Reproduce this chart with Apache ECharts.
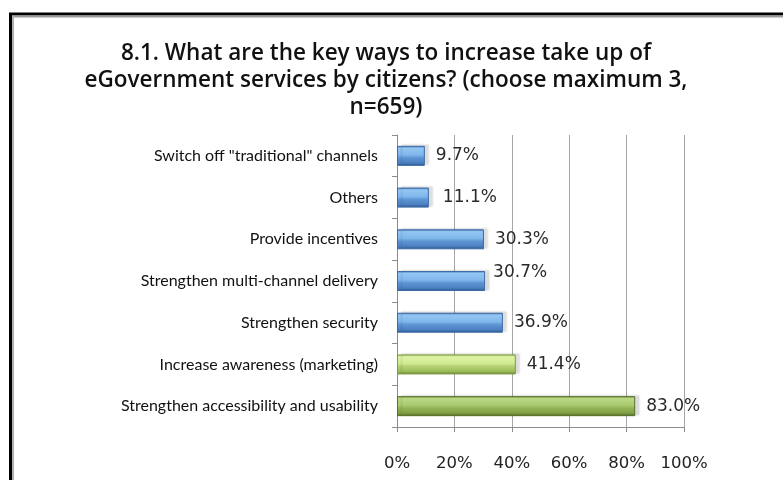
<!DOCTYPE html>
<html>
<head>
<meta charset="utf-8">
<script src="https://cdn.jsdelivr.net/npm/echarts@6/dist/echarts.min.js"></script>
<style>
  html, body { margin: 0; padding: 0; background: #fff; }
  #chart { width: 783px; height: 480px; }
</style>
</head>
<body>
<div id="chart"></div>
<script>
// Survey answers, top to bottom
const categories = [
  'Switch off "traditional" channels',
  'Others',
  'Provide incentives',
  'Strengthen multi-channel delivery',
  'Strengthen security',
  'Increase awareness (marketing)',
  'Strengthen accessibility and usability'
];
const shares = [9.7, 11.1, 30.3, 30.7, 36.9, 41.4, 83.0];
const xTicks = [0, 20, 40, 60, 80, 100];
const titleText = '8.1. What are the key ways to increase take up of\neGovernment services by citizens? (choose maximum 3,\nn=659)';

// bevelled bar fills
function grad(stops) {
  return new echarts.graphic.LinearGradient(0, 0, 0, 1,
    stops.map(s => ({ offset: s[0], color: s[1] })));
}
const blueFill = grad([[0, '#4a7cba'], [0.12, '#93c6f3'], [0.45, '#80b7ec'], [0.6, '#5d95d4'], [0.86, '#4c80c2'], [1, '#2f5d96']]);
const limeFill = grad([[0, '#a6c56a'], [0.12, '#dcf3a6'], [0.45, '#d0ec92'], [0.6, '#b3d173'], [0.86, '#9dbd5a'], [1, '#6e8b35']]);
const oliveFill = grad([[0, '#7e9c44'], [0.12, '#b9d886'], [0.45, '#aacb70'], [0.6, '#93b456'], [0.86, '#7f9e44'], [1, '#566f27']]);
const fills = [blueFill, blueFill, blueFill, blueFill, blueFill, limeFill, oliveFill];
const borders = ['#3c6aa6', '#3c6aa6', '#3c6aa6', '#3c6aa6', '#3c6aa6', '#7f9c44', '#566f27'];
const labelOffsets = [[0, 0], [3, 0], [0, 0], [-3, -8], [0, 0], [0, 0], [0, 0]];

const chart = echarts.init(document.getElementById('chart'), null, { renderer: 'canvas' });

chart.setOption({
  animation: false,
  backgroundColor: '#ffffff',
  title: {
    text: titleText,
    left: 381,
    textAlign: 'center',
    top: 35,
    textStyle: {
      fontFamily: 'Open Sans',
      fontSize: 22.5,
      fontWeight: 600,
      color: '#111',
      lineHeight: 27
    }
  },
  grid: { left: 397, right: 99, top: 135, bottom: 53, containLabel: false },
  xAxis: {
    type: 'value',
    min: 0,
    max: 100,
    interval: 20,
    axisLine: { show: true, lineStyle: { color: '#8c8c8c', width: 1 } },
    axisTick: { show: true, length: 5, lineStyle: { color: '#8c8c8c' } },
    splitLine: { show: true, lineStyle: { color: '#a6a6a6', width: 1 } },
    axisLabel: {
      margin: 28,
      fontFamily: 'DejaVu Sans',
      fontSize: 16.5,
      color: '#222',
      formatter: v => xTicks.includes(v) ? v + '%' : ''
    }
  },
  yAxis: {
    type: 'category',
    inverse: true,
    data: categories,
    axisLine: { show: true, lineStyle: { color: '#8c8c8c', width: 1 } },
    axisTick: { show: true, length: 5, lineStyle: { color: '#8c8c8c' } },
    axisLabel: {
      margin: 19,
      fontFamily: 'Lato',
      fontSize: 16,
      color: '#111'
    }
  },
  series: [{
    type: 'bar',
    barWidth: 20,
    data: shares.map((v, i) => ({
      value: v,
      itemStyle: {
        color: fills[i],
        borderColor: borders[i],
        borderWidth: 1,
        shadowColor: 'rgba(0,0,0,0.13)',
        shadowBlur: 2,
        shadowOffsetX: 4,
        shadowOffsetY: -1
      },
      label: { offset: labelOffsets[i] }
    })),
    label: {
      show: true,
      position: 'right',
      distance: 11,
      fontFamily: 'DejaVu Sans',
      fontSize: 17,
      color: '#2a2a2a',
      formatter: p => p.value.toFixed(1) + '%'
    }
  }],
  graphic: [
    { type: 'line', shape: { x1: 9, y1: 14, x2: 783, y2: 14 }, style: { stroke: '#000', lineWidth: 3 } },
    { type: 'line', shape: { x1: 10.5, y1: 13, x2: 10.5, y2: 480 }, style: { stroke: '#000', lineWidth: 3 } },
    { type: 'line', shape: { x1: 12, y1: 16.5, x2: 783, y2: 16.5 }, style: { stroke: '#9a9a9a', lineWidth: 2 } },
    { type: 'line', shape: { x1: 13, y1: 16, x2: 13, y2: 480 }, style: { stroke: '#b0b0b0', lineWidth: 2 } }
  ]
});
</script>
</body>
</html>
